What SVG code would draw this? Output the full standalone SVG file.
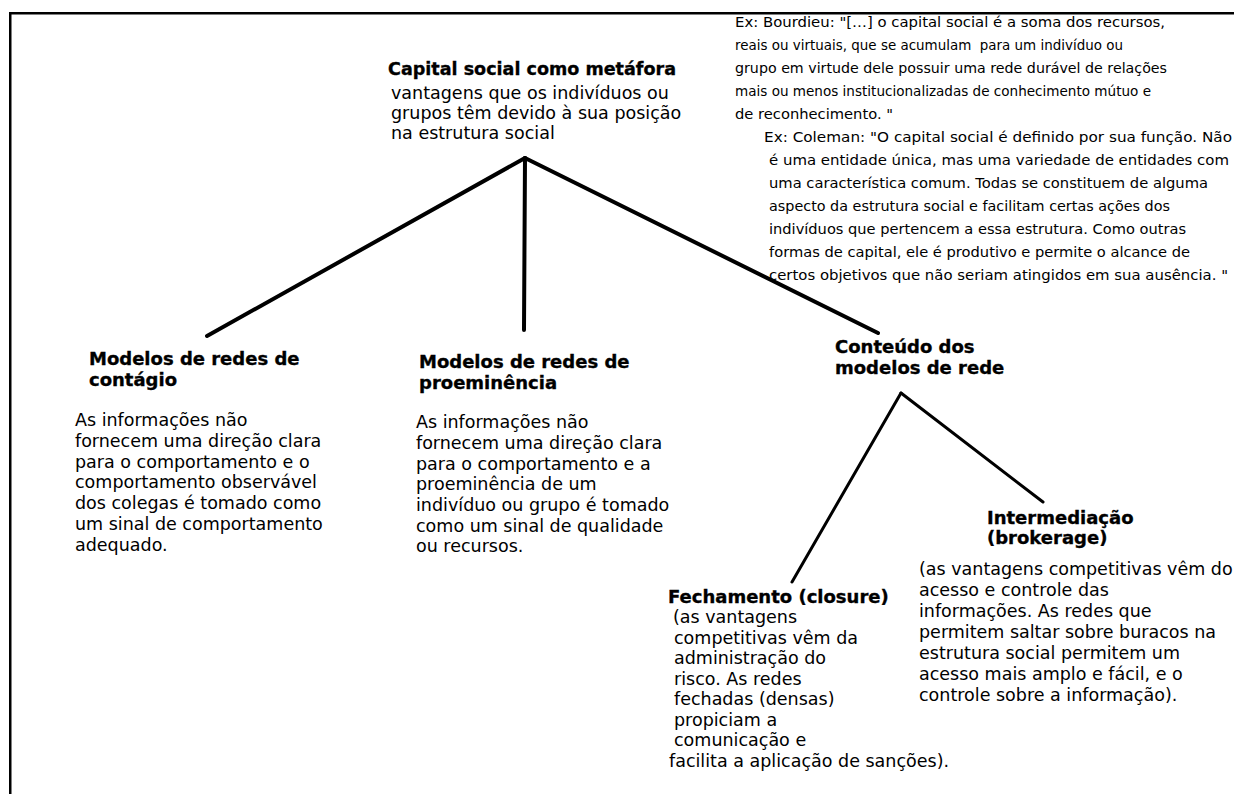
<svg xmlns="http://www.w3.org/2000/svg" width="1234" height="794" viewBox="0 0 1234 794">
<style>
.b{font-family:"DejaVu Sans",sans-serif;font-weight:bold;font-size:18px;fill:#000;stroke:#000;stroke-width:0.35}
.t{font-family:"DejaVu Sans",sans-serif;font-size:17.5px;fill:#000}
.s{font-family:"DejaVu Sans",sans-serif;font-size:14.5px;fill:#000;white-space:pre}
.c{stroke:#000;stroke-linecap:round;fill:none}
</style>
<rect width="1234" height="794" fill="#fff"/>
<g id="frame" fill="#000">
<rect x="9" y="12" width="1225" height="2.5"/>
<rect x="9" y="12" width="2.5" height="782"/>
</g>
<g id="connectors">
<line class="c" stroke-width="4" x1="525" y1="158" x2="207" y2="336"/>
<line class="c" stroke-width="4" x1="525" y1="158" x2="524" y2="330"/>
<line class="c" stroke-width="4" x1="525" y1="158" x2="878" y2="333"/>
<line class="c" stroke-width="3" x1="901" y1="393" x2="792" y2="582"/>
<line class="c" stroke-width="3" x1="901" y1="393" x2="1043" y2="502"/>
</g>
<g id="root">
<text class="b" x="388" y="75" font-size="17.5" textLength="288" lengthAdjust="spacingAndGlyphs">Capital social como metáfora</text>
<text class="t" x="391" y="99">vantagens que os indivíduos ou</text>
<text class="t" x="391" y="119">grupos têm devido à sua posição</text>
<text class="t" x="391" y="139">na estrutura social</text>
</g>
<g id="bourdieu">
<text class="s" x="735" y="27" textLength="430" lengthAdjust="spacingAndGlyphs">Ex: Bourdieu: "[…] o capital social é a soma dos recursos,</text>
<text class="s" x="735" y="50" textLength="388" lengthAdjust="spacingAndGlyphs">reais ou virtuais, que se acumulam  para um indivíduo ou</text>
<text class="s" x="735" y="73" textLength="432" lengthAdjust="spacingAndGlyphs">grupo em virtude dele possuir uma rede durável de relações</text>
<text class="s" x="735" y="96" textLength="416" lengthAdjust="spacingAndGlyphs">mais ou menos institucionalizadas de conhecimento mútuo e</text>
<text class="s" x="735" y="119" textLength="158" lengthAdjust="spacingAndGlyphs">de reconhecimento. "</text>
</g>
<g id="coleman">
<text class="s" x="764" y="142" textLength="468" lengthAdjust="spacingAndGlyphs">Ex: Coleman: "O capital social é definido por sua função. Não</text>
<text class="s" x="769" y="165" textLength="460" lengthAdjust="spacingAndGlyphs">é uma entidade única, mas uma variedade de entidades com</text>
<text class="s" x="769" y="188" textLength="439" lengthAdjust="spacingAndGlyphs">uma característica comum. Todas se constituem de alguma</text>
<text class="s" x="769" y="211" textLength="401" lengthAdjust="spacingAndGlyphs">aspecto da estrutura social e facilitam certas ações dos</text>
<text class="s" x="769" y="234" textLength="417" lengthAdjust="spacingAndGlyphs">indivíduos que pertencem a essa estrutura. Como outras</text>
<text class="s" x="769" y="257" textLength="421" lengthAdjust="spacingAndGlyphs">formas de capital, ele é produtivo e permite o alcance de</text>
<text class="s" x="769" y="280" textLength="459" lengthAdjust="spacingAndGlyphs">certos objetivos que não seriam atingidos em sua ausência. "</text>
</g>
<g id="contagio">
<text class="b" x="89" y="365">Modelos de redes de</text>
<text class="b" x="89" y="386">contágio</text>
<text class="t" x="75" y="426">As informações não</text>
<text class="t" x="75" y="447">fornecem uma direção clara</text>
<text class="t" x="75" y="468">para o comportamento e o</text>
<text class="t" x="75" y="488">comportamento observável</text>
<text class="t" x="75" y="509">dos colegas é tomado como</text>
<text class="t" x="75" y="530">um sinal de comportamento</text>
<text class="t" x="75" y="551">adequado.</text>
</g>
<g id="proeminencia">
<text class="b" x="419" y="368">Modelos de redes de</text>
<text class="b" x="419" y="389">proeminência</text>
<text class="t" x="416" y="428">As informações não</text>
<text class="t" x="416" y="449">fornecem uma direção clara</text>
<text class="t" x="416" y="470">para o comportamento e a</text>
<text class="t" x="416" y="490">proeminência de um</text>
<text class="t" x="416" y="511">indivíduo ou grupo é tomado</text>
<text class="t" x="416" y="532">como um sinal de qualidade</text>
<text class="t" x="416" y="552">ou recursos.</text>
</g>
<g id="conteudo">
<text class="b" x="835" y="353">Conteúdo dos</text>
<text class="b" x="835" y="374">modelos de rede</text>
</g>
<g id="intermediacao">
<text class="b" x="987" y="524">Intermediação</text>
<text class="b" x="987" y="544">(brokerage)</text>
<text class="t" x="919" y="575">(as vantagens competitivas vêm do</text>
<text class="t" x="919" y="596">acesso e controle das</text>
<text class="t" x="919" y="617">informações. As redes que</text>
<text class="t" x="919" y="638">permitem saltar sobre buracos na</text>
<text class="t" x="919" y="659">estrutura social permitem um</text>
<text class="t" x="919" y="680">acesso mais amplo e fácil, e o</text>
<text class="t" x="919" y="701">controle sobre a informação).</text>
</g>
<g id="fechamento">
<text class="b" x="668" y="603">Fechamento (closure)</text>
<text class="t" x="673" y="623">(as vantagens</text>
<text class="t" x="674" y="644">competitivas vêm da</text>
<text class="t" x="674" y="664">administração do</text>
<text class="t" x="674" y="685">risco. As redes</text>
<text class="t" x="674" y="705">fechadas (densas)</text>
<text class="t" x="674" y="726">propiciam a</text>
<text class="t" x="674" y="746">comunicação e</text>
<text class="t" x="669" y="767">facilita a aplicação de sanções).</text>
</g>
</svg>
